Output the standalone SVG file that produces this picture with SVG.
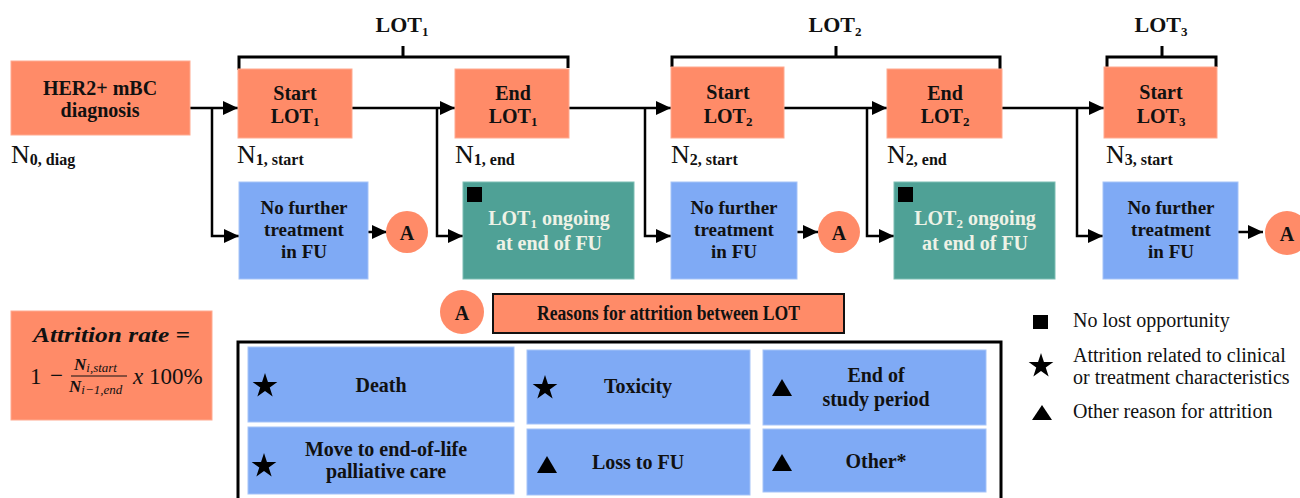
<svg xmlns="http://www.w3.org/2000/svg" xmlns:xlink="http://www.w3.org/1999/xlink" width="1300" height="498" viewBox="0 0 1300 498">
<defs>
<marker id="arr" markerUnits="userSpaceOnUse" markerWidth="16" markerHeight="14" refX="15" refY="7" orient="auto">
<path d="M0,0 L15,7 L0,14 Z" fill="#000"/>
</marker>
<polygon id="star" points="0,-13 2.94,-4.05 12.36,-4.02 4.76,1.55 7.64,10.52 0,5 -7.64,10.52 -4.76,1.55 -12.36,-4.02 -2.94,-4.05" fill="#000"/>
<polygon id="tri" points="-10,8 10,8 0,-9" fill="#000"/>
</defs>
<style>
text{font-family:'Liberation Serif','DejaVu Serif',serif}
.or{fill:#FF8B68;stroke:#FFAA90;stroke-width:1}
.bl{fill:#7FAAF5;stroke:#A5C3F8;stroke-width:1}
.tl{fill:#4FA196;stroke:#7DBDB3;stroke-width:1}
.t{font-weight:bold;font-size:20px;fill:#111;text-anchor:middle}
.t19{font-size:19px}
.w{fill:#EEF2E6}
.sub{font-size:13px}
.nl{font-size:26px;fill:#111}
.ns{font-size:16px;font-weight:bold}
.lot{font-weight:bold;font-size:22px;fill:#111;text-anchor:middle}
.ln{fill:none;stroke:#000;stroke-width:2.5}
.br{fill:none;stroke:#000;stroke-width:3}
.leg{font-size:20px;fill:#111}
.ac{fill:#FF8B68}
.fm{fill:#111}
</style>

<g id="brackets">
<path class="br" d="M239,70 V57 H568 V68 M403,57 V46"/>
<text class="lot" x="402" y="32">LOT<tspan class="sub" dy="4">1</tspan></text>
<path class="br" d="M672,67 V57 H1000 V69 M836,57 V46"/>
<text class="lot" x="835" y="32">LOT<tspan class="sub" dy="4">2</tspan></text>
<path class="br" d="M1107,67 V57 H1216 V67 M1162,57 V46"/>
<text class="lot" x="1161" y="32">LOT<tspan class="sub" dy="4">3</tspan></text>
</g>

<g id="connectors">
<path class="ln" d="M190,108 H238" marker-end="url(#arr)"/>
<path class="ln" d="M212,108 V236 H239" marker-end="url(#arr)"/>
<path class="ln" d="M352,108 H455" marker-end="url(#arr)"/>
<path class="ln" d="M437,108 V236 H463" marker-end="url(#arr)"/>
<path class="ln" d="M368,232 H387" marker-end="url(#arr)"/>
<path class="ln" d="M569,108 H671" marker-end="url(#arr)"/>
<path class="ln" d="M645,108 V236 H671" marker-end="url(#arr)"/>
<path class="ln" d="M797,232 H818" marker-end="url(#arr)"/>
<path class="ln" d="M784,108 H887" marker-end="url(#arr)"/>
<path class="ln" d="M867,108 V236 H894" marker-end="url(#arr)"/>
<path class="ln" d="M1002,108 H1104" marker-end="url(#arr)"/>
<path class="ln" d="M1077,108 V236 H1103" marker-end="url(#arr)"/>
<path class="ln" d="M1238,232 H1263" marker-end="url(#arr)"/>
</g>

<g id="diag">
<rect class="or" x="11" y="61" width="179" height="74"/>
<text class="t" x="100" y="95">HER2+ mBC</text>
<text class="t" x="100" y="117">diagnosis</text>
<text class="nl" x="11" y="163">N<tspan class="ns" dy="2">0, diag</tspan></text>
</g>

<g id="start1">
<rect class="or" x="238" y="69" width="114" height="69"/>
<text class="t" x="295" y="100">Start</text>
<text class="t" x="295" y="123">LOT<tspan class="sub" dy="3">1</tspan></text>
<text class="nl" x="237" y="163">N<tspan class="ns" dy="2">1, start</tspan></text>
</g>

<g id="end1">
<rect class="or" x="455" y="69" width="114" height="69"/>
<text class="t" x="513" y="100">End</text>
<text class="t" x="513" y="123">LOT<tspan class="sub" dy="3">1</tspan></text>
<text class="nl" x="455" y="163">N<tspan class="ns" dy="2">1, end</tspan></text>
</g>

<g id="start2">
<rect class="or" x="671" y="67" width="113" height="71"/>
<text class="t" x="728" y="99">Start</text>
<text class="t" x="728" y="123">LOT<tspan class="sub" dy="3">2</tspan></text>
<text class="nl" x="671" y="163">N<tspan class="ns" dy="2">2, start</tspan></text>
</g>

<g id="end2">
<rect class="or" x="887" y="69" width="115" height="69"/>
<text class="t" x="945" y="100">End</text>
<text class="t" x="945" y="123">LOT<tspan class="sub" dy="3">2</tspan></text>
<text class="nl" x="887" y="163">N<tspan class="ns" dy="2">2, end</tspan></text>
</g>

<g id="start3">
<rect class="or" x="1104" y="67" width="113" height="71"/>
<text class="t" x="1161" y="99">Start</text>
<text class="t" x="1161" y="123">LOT<tspan class="sub" dy="3">3</tspan></text>
<text class="nl" x="1106" y="163">N<tspan class="ns" dy="2">3, start</tspan></text>
</g>

<g id="nofurther1">
<rect class="bl" x="239" y="182" width="129" height="97"/>
<text class="t t19" x="304" y="214">No further</text>
<text class="t t19" x="304" y="236">treatment</text>
<text class="t t19" x="304" y="258">in FU</text>
</g>

<g id="ongoing1">
<rect class="tl" x="463" y="182" width="171" height="97"/>
<rect x="467" y="187" width="15" height="15" fill="#000"/>
<text class="t w" x="549" y="225">LOT<tspan class="sub" dy="3">1</tspan><tspan dy="-3"> ongoing</tspan></text>
<text class="t w" x="549" y="250">at end of FU</text>
</g>

<g id="nofurther2">
<rect class="bl" x="671" y="182" width="126" height="97"/>
<text class="t t19" x="734" y="214">No further</text>
<text class="t t19" x="734" y="236">treatment</text>
<text class="t t19" x="734" y="258">in FU</text>
</g>

<g id="ongoing2">
<rect class="tl" x="894" y="182" width="161" height="97"/>
<rect x="898" y="187" width="15" height="15" fill="#000"/>
<text class="t w" x="975" y="225">LOT<tspan class="sub" dy="3">2</tspan><tspan dy="-3"> ongoing</tspan></text>
<text class="t w" x="975" y="250">at end of FU</text>
</g>

<g id="nofurther3">
<rect class="bl" x="1103" y="182" width="135" height="97"/>
<text class="t t19" x="1171" y="214">No further</text>
<text class="t t19" x="1171" y="236">treatment</text>
<text class="t t19" x="1171" y="258">in FU</text>
</g>

<g id="A1"><circle class="ac" cx="407" cy="232" r="21"/><text class="t" x="407" y="240" font-size="22">A</text></g>
<g id="A2"><circle class="ac" cx="839" cy="232" r="21"/><text class="t" x="839" y="240" font-size="22">A</text></g>
<g id="A3"><circle class="ac" cx="1287" cy="233" r="22"/><text class="t" x="1287" y="241" font-size="22">A</text></g>

<g id="formula">
<rect class="or" x="11" y="311" width="201" height="109"/>
<text class="fm" x="33" y="342" font-size="22" font-weight="bold" font-style="italic" textLength="157" lengthAdjust="spacingAndGlyphs">Attrition rate =</text>
<text class="fm" x="30" y="384" font-size="23">1</text>
<text class="fm" x="50" y="383" font-size="23">−</text>
<text class="fm" x="74" y="370" font-size="17" font-style="italic" font-weight="bold">N<tspan font-size="13" font-weight="normal" dy="2">i,start</tspan></text>
<line x1="71" y1="376" x2="127" y2="376" stroke="#111" stroke-width="1.2"/>
<text class="fm" x="69" y="392" font-size="17" font-style="italic" font-weight="bold">N<tspan font-size="13" font-weight="normal" dy="2">i−1,end</tspan></text>
<text class="fm" x="133" y="384" font-size="23"><tspan font-style="italic">x</tspan> 100%</text>
</g>

<g id="legendA">
<circle class="ac" cx="462" cy="312" r="22"/>
<text class="t" x="462" y="320" font-size="22">A</text>
<rect x="493" y="294" width="351" height="39" fill="#FF8B68" stroke="#111" stroke-width="2"/>
<text class="t" x="668.5" y="320" font-size="17.5" textLength="263" lengthAdjust="spacingAndGlyphs">Reasons for attrition between LOT</text>
</g>

<g id="reasons">
<rect x="238" y="342" width="763" height="170" fill="none" stroke="#000" stroke-width="3"/>
</g>
<g id="death">
<rect class="bl" x="248" y="347" width="266" height="75"/>
<use xlink:href="#star" href="#star" x="265" y="386"/>
<text class="t" x="381" y="392">Death</text>
</g>
<g id="toxicity">
<rect class="bl" x="527" y="350" width="223" height="74"/>
<use xlink:href="#star" href="#star" x="545" y="388"/>
<text class="t" x="638" y="393">Toxicity</text>
</g>
<g id="endstudy">
<rect class="bl" x="763" y="350" width="223" height="75"/>
<use xlink:href="#tri" href="#tri" x="782" y="388"/>
<text class="t" x="876" y="382">End of</text>
<text class="t" x="876" y="406">study period</text>
</g>
<g id="palliative">
<rect class="bl" x="248" y="427" width="266" height="67"/>
<use xlink:href="#star" href="#star" x="264" y="466"/>
<text class="t" x="386" y="456">Move to end-of-life</text>
<text class="t" x="386" y="478">palliative care</text>
</g>
<g id="lossfu">
<rect class="bl" x="527" y="429" width="223" height="66"/>
<use xlink:href="#tri" href="#tri" x="547" y="465"/>
<text class="t" x="638" y="469">Loss to FU</text>
</g>
<g id="other">
<rect class="bl" x="763" y="429" width="223" height="63"/>
<use xlink:href="#tri" href="#tri" x="782" y="463"/>
<text class="t" x="876" y="468">Other*</text>
</g>

<g id="legend">
<rect x="1033" y="315" width="15" height="14" fill="#000"/>
<text class="leg" x="1073" y="327">No lost opportunity</text>
<use xlink:href="#star" href="#star" x="1041" y="366"/>
<text class="leg" x="1073" y="362">Attrition related to clinical</text>
<text class="leg" x="1073" y="384">or treatment characteristics</text>
<polygon points="1032,420 1052,420 1042,405" fill="#000"/>
<text class="leg" x="1073" y="418">Other reason for attrition</text>
</g>
</svg>
